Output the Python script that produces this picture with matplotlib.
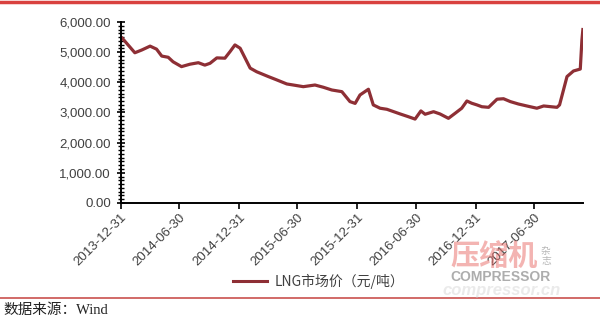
import matplotlib.pyplot as plt
import matplotlib.dates as mdates
from matplotlib.ticker import FuncFormatter, AutoMinorLocator
from matplotlib.lines import Line2D
import pandas as pd

# LNG market price, yuan/ton
dates = ['2013-12-31', '2014-01-03', '2014-02-13', '2014-03-06', '2014-04-01', '2014-04-21',
         '2014-05-07', '2014-05-27', '2014-06-11', '2014-07-07', '2014-08-02', '2014-08-28',
         '2014-09-17', '2014-10-03', '2014-10-24', '2014-11-18', '2014-12-04', '2014-12-19',
         '2015-01-04', '2015-02-04', '2015-02-24', '2015-04-01', '2015-04-27', '2015-05-28',
         '2015-06-17', '2015-07-18', '2015-08-23', '2015-09-18', '2015-10-14', '2015-11-14',
         '2015-12-09', '2015-12-25', '2016-01-09', '2016-02-04', '2016-02-19', '2016-03-11',
         '2016-04-01', '2016-05-12', '2016-06-06', '2016-06-27', '2016-07-15', '2016-07-28',
         '2016-08-23', '2016-09-12', '2016-10-08', '2016-10-29', '2016-11-18', '2016-12-04',
         '2016-12-19', '2017-01-04', '2017-01-19', '2017-02-09', '2017-03-07', '2017-03-27',
         '2017-04-17', '2017-05-12', '2017-06-07', '2017-07-08', '2017-07-29', '2017-09-08',
         '2017-09-16', '2017-10-09', '2017-10-29', '2017-11-19', '2017-11-24', '2017-11-27']
prices = [5500, 5490, 4980, 5070, 5200, 5100,
          4870, 4830, 4680, 4520, 4600, 4650,
          4570, 4630, 4810, 4800, 5020, 5240,
          5130, 4470, 4350, 4190, 4080, 3945,
          3910, 3855, 3910, 3835, 3745, 3690,
          3360, 3300, 3580, 3770, 3250, 3140,
          3105, 2950, 2860, 2780, 3050, 2940,
          3025, 2950, 2805, 2975, 3140, 3380,
          3305, 3250, 3190, 3170, 3440, 3455,
          3360, 3280, 3215, 3140, 3215, 3170,
          3250, 4190, 4375, 4440, 5400, 5750]
tick_dates = ['2013-12-31', '2014-06-30', '2014-12-31', '2015-06-30',
              '2015-12-31', '2016-06-30', '2016-12-31', '2017-06-30']

x = pd.to_datetime(dates)
ticks = pd.to_datetime(tick_dates)
line_color = '#8e2f35'
text_color = '#404040'

fig = plt.figure(figsize=(6, 3.19), dpi=100)
ax = fig.add_axes([0.201, 0.364, 0.771, 0.567])

ax.plot(x, prices, color=line_color, linewidth=2.3, solid_joinstyle='round')

ax.set_ylim(0, 6000)
ax.set_xlim(ticks[0], pd.Timestamp('2017-11-28'))
ax.set_yticks(range(0, 6001, 1000))
ax.yaxis.set_major_formatter(FuncFormatter(lambda v, p: '{:,.2f}'.format(v)))
ax.yaxis.set_minor_locator(AutoMinorLocator(8))
ax.set_xticks(ticks)
ax.set_xticklabels([t.strftime('%Y-%m-%d') for t in ticks])

for s in ['top', 'right']:
    ax.spines[s].set_visible(False)
for s in ['left', 'bottom']:
    ax.spines[s].set_linewidth(1.4)

ax.tick_params(axis='y', which='major', direction='inout', length=6, width=1.2,
               labelsize=9.5, labelcolor=text_color, pad=4)
ax.tick_params(axis='y', which='minor', direction='inout', length=4, width=1.0)
ax.tick_params(axis='x', which='major', direction='out', length=4, width=1.2,
               labelsize=9.5, labelcolor=text_color, pad=2)
for lab in ax.get_yticklabels():
    lab.set_family('Liberation Sans')
for lab in ax.get_xticklabels():
    lab.set_family('Liberation Sans')
    lab.set_rotation(45)
    lab.set_ha('right')
    lab.set_va('top')
    lab.set_rotation_mode('anchor')

# legend
fig.lines.append(Line2D([233 / 600, 267 / 600], [1 - 281 / 319] * 2,
                        transform=fig.transFigure, color=line_color, linewidth=2.2))
fig.text(275 / 600, 1 - 281 / 319, 'LNG市场价（元/吨）', fontsize=10, color=text_color,
         va='center', ha='left', family=['Noto Sans CJK SC', 'DejaVu Sans'])

# red rules at top and bottom
fig.lines.append(Line2D([0, 1], [1 - 1.5 / 319] * 2, transform=fig.transFigure,
                        color='#d9413f', linewidth=2.5))
fig.lines.append(Line2D([0, 1], [1 - 297.5 / 319] * 2, transform=fig.transFigure,
                        color='#c9504e', linewidth=1.2))

# source note
fig.text(3 / 600, 1 - 310 / 319, '数据来源：Wind', fontsize=10.5, color='#222222',
         va='center', ha='left', family=['Liberation Serif', 'Noto Sans CJK SC'])

# watermark
fig.text(450 / 600, 1 - 256 / 319, '压缩机', fontsize=21, color='#e86a66', alpha=0.5,
         weight='bold', va='center', ha='left', family=['Noto Sans CJK SC'])
fig.text(541 / 600, 1 - 256 / 319, '杂\n志', fontsize=7, color='#888888', alpha=0.6,
         va='center', ha='left', linespacing=1.1, family=['Noto Sans CJK SC'])
fig.text(450 / 600, 1 - 277 / 319, 'COMPRESSOR', fontsize=10, color='#777777', alpha=0.6,
         weight='bold', va='center', ha='left', family='Liberation Sans')
fig.text(442 / 600, 1 - 291 / 319, 'compressor.cn', fontsize=12, color='#cccccc', alpha=0.4,
         weight='bold', style='italic', va='center', ha='left', family='Liberation Sans')

fig.savefig('out.png', dpi=100, facecolor='white')
